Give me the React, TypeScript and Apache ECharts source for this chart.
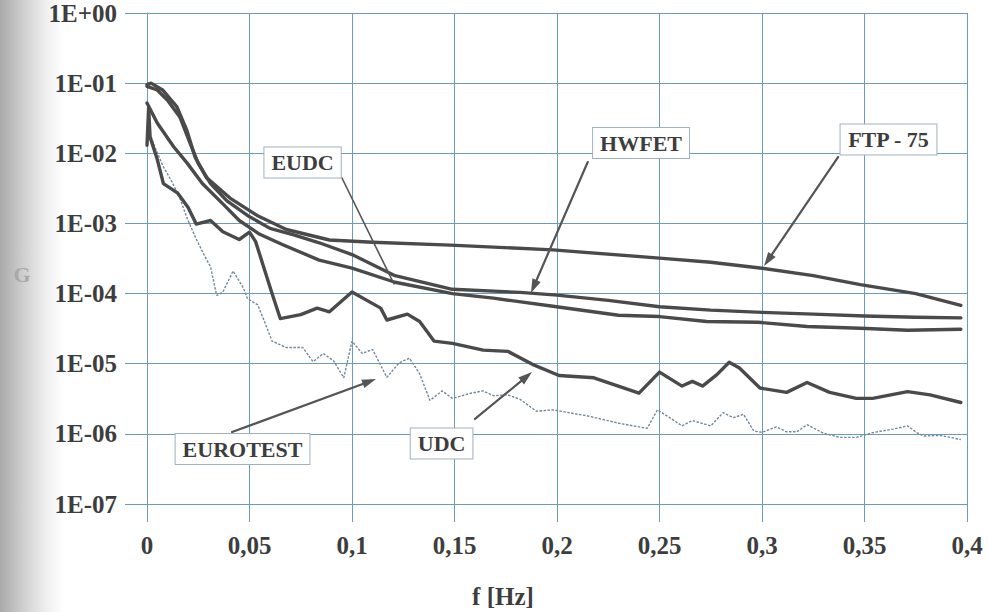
import React, { useEffect, useRef } from "react";
import * as echarts from "echarts";

// Power spectral density G(f) of driving-cycle speed signals, log scale.

const fTicks = [0, 0.05, 0.1, 0.15, 0.2, 0.25, 0.3, 0.35, 0.4];
const gRange = [1e-7, 1];

const ftp75: [number, number][] = [
  [0, 0.095], [0.002, 0.1], [0.0078, 0.079], [0.0146, 0.046], [0.0195, 0.021],
  [0.0234, 0.0089], [0.029, 0.0045], [0.0405, 0.0023], [0.0537, 0.0013],
  [0.068, 0.00082], [0.089, 0.00058], [0.11, 0.00054], [0.148, 0.00049],
  [0.198, 0.00042], [0.25, 0.00032], [0.275, 0.00028], [0.3, 0.00023],
  [0.325, 0.00018], [0.348, 0.000134], [0.375, 0.0001], [0.397, 0.000068],
];

const hwfet: [number, number][] = [
  [0, 0.09], [0.005, 0.08], [0.01, 0.057], [0.016, 0.033], [0.021, 0.014],
  [0.025, 0.0072], [0.031, 0.0037], [0.039, 0.0021], [0.049, 0.0013],
  [0.06, 0.00085], [0.072, 0.00068], [0.084, 0.00053], [0.1, 0.00036],
  [0.121, 0.00018], [0.149, 0.000115], [0.182, 0.000104], [0.2, 0.000095],
  [0.225, 0.00008], [0.25, 0.000065], [0.275, 0.000058], [0.3, 0.000054],
  [0.325, 0.000051], [0.35, 0.000048], [0.375, 0.000046], [0.397, 0.000045],
];

const eudc: [number, number][] = [
  [0, 0.052], [0.005, 0.027], [0.013, 0.0124], [0.0195, 0.0073], [0.027, 0.0037],
  [0.037, 0.0019], [0.045, 0.0011], [0.055, 0.0007], [0.066, 0.0005],
  [0.084, 0.0003], [0.1, 0.00023], [0.121, 0.000145], [0.149, 0.0001],
  [0.169, 0.000086], [0.198, 0.000066], [0.23, 0.000049], [0.25, 0.000047],
  [0.273, 0.00004], [0.298, 0.000039], [0.322, 0.000034], [0.348, 0.000032],
  [0.371, 0.00003], [0.397, 0.000031],
];

const udc: [number, number][] = [
  [0, 0.013], [0.0008, 0.045], [0.0015, 0.017], [0.005, 0.0082], [0.008, 0.0037],
  [0.015, 0.0027], [0.02, 0.0017], [0.024, 0.00098], [0.031, 0.0011],
  [0.037, 0.00076], [0.045, 0.00059], [0.05, 0.00075], [0.053, 0.00055],
  [0.061, 0.0001], [0.065, 0.000044], [0.075, 0.00005], [0.083, 0.000062],
  [0.089, 0.000055], [0.1, 0.000105], [0.114, 0.000062], [0.117, 0.000042],
  [0.127, 0.000051], [0.133, 0.00004], [0.14, 0.000021], [0.149, 0.0000195],
  [0.164, 0.0000156], [0.176, 0.000015], [0.188, 0.0000098], [0.201, 0.0000068],
  [0.218, 0.0000063], [0.24, 0.0000038], [0.25, 0.0000076], [0.261, 0.0000048],
  [0.266, 0.0000056], [0.271, 0.0000048], [0.278, 0.000007], [0.284, 0.0000105],
  [0.289, 0.0000087], [0.299, 0.0000045], [0.312, 0.0000039], [0.322, 0.0000054],
  [0.333, 0.0000039], [0.346, 0.0000032], [0.354, 0.0000032], [0.371, 0.000004],
  [0.382, 0.0000036], [0.397, 0.0000028],
];

const eurotest: [number, number][] = [
  [0, 0.025], [0.004, 0.012], [0.008, 0.0064], [0.012, 0.004], [0.016, 0.0023],
  [0.0195, 0.0012], [0.024, 0.0006], [0.028, 0.00035], [0.031, 0.00024],
  [0.034, 0.000094], [0.037, 0.000105], [0.042, 0.00021], [0.047, 0.00012],
  [0.049, 0.000085], [0.054, 0.000069], [0.057, 0.000042], [0.061, 0.000021],
  [0.068, 0.000017], [0.076, 0.000017], [0.081, 0.0000107], [0.086, 0.000014],
  [0.091, 0.000011], [0.096, 0.0000063], [0.1, 0.000021], [0.105, 0.000014],
  [0.11, 0.000016], [0.117, 0.0000064], [0.123, 0.0000103], [0.128, 0.000012],
  [0.133, 0.0000072], [0.138, 0.000003], [0.144, 0.0000041], [0.149, 0.0000032],
  [0.158, 0.0000038], [0.164, 0.0000041], [0.169, 0.0000035], [0.176, 0.0000036],
  [0.182, 0.0000031], [0.19, 0.0000021], [0.198, 0.0000022], [0.215, 0.0000018],
  [0.231, 0.0000014], [0.244, 0.0000012], [0.249, 0.0000022], [0.255, 0.0000017],
  [0.261, 0.0000013], [0.266, 0.00000155], [0.275, 0.0000013], [0.281, 0.000002],
  [0.286, 0.0000017], [0.291, 0.0000019], [0.296, 0.0000011], [0.3, 0.00000105],
  [0.307, 0.00000126], [0.312, 0.00000107], [0.317, 0.00000107], [0.322, 0.00000135],
  [0.33, 0.00000102], [0.338, 0.00000089], [0.346, 0.00000089], [0.354, 0.00000104],
  [0.364, 0.00000117], [0.371, 0.0000013], [0.376, 0.00000102], [0.379, 0.00000093],
  [0.387, 0.00000095], [0.397, 0.00000083],
];

// Callout labels: box centre, leader start and leader tip, in (f, G) coordinates.
type Callout = {
  text: string;
  box: [number, number];
  from: [number, number];
  to: [number, number];
  head: boolean;
};

const callouts: Callout[] = [
  { text: "EUDC", box: [0.0759, 7.4e-3], from: [0.0951, 4.44e-3], to: [0.1205, 1.37e-4], head: false },
  { text: "HWFET", box: [0.241, 0.014], from: [0.215, 7.5e-3], to: [0.1873, 1.02e-4], head: true },
  { text: "FTP - 75", box: [0.3617, 0.0157], from: [0.3371, 8.85e-3], to: [0.301, 2.47e-4], head: true },
  { text: "EUROTEST", box: [0.0466, 6.08e-7], from: [0.0415, 1.06e-6], to: [0.1117, 6.05e-6], head: true },
  { text: "UDC", box: [0.1437, 7.28e-7], from: [0.16, 1.63e-6], to: [0.1878, 7.6e-6], head: true },
];

const SERIF = '"Liberation Serif", "Times New Roman", serif';
const GRID = "#6b9bbb";
const INK = "#3d3d3d";
const CURVE = "#4a4a4a";

const thick = (name: string, data: [number, number][]) => ({
  name,
  type: "line",
  data,
  symbol: "none",
  showSymbol: false,
  z: 3,
  lineStyle: { color: CURVE, width: 3.4, cap: "round", join: "round" },
});

export default function App() {
  const ref = useRef<HTMLDivElement>(null);

  useEffect(() => {
    if (!ref.current) return;
    const chart = echarts.init(ref.current, null, { renderer: "svg" });

    chart.setOption({
      animation: false,
      backgroundColor: "transparent",
      grid: { left: 147, right: 21, top: 13, bottom: 108 },
      xAxis: {
        type: "value",
        min: fTicks[0],
        max: fTicks[fTicks.length - 1],
        interval: 0.05,
        axisLine: { show: true, lineStyle: { color: GRID, width: 1 } },
        axisTick: { show: true, inside: false, length: 18, lineStyle: { color: GRID, width: 1 } },
        splitLine: { show: true, lineStyle: { color: GRID, width: 1 } },
        axisLabel: {
          margin: 29,
          color: INK,
          fontFamily: SERIF,
          fontWeight: "bold",
          fontSize: 25,
          formatter: (v: number) => (v === 0 ? "0" : String(+v.toFixed(2)).replace(".", ",")),
        },
      },
      yAxis: {
        type: "log",
        logBase: 10,
        min: gRange[0],
        max: gRange[1],
        splitNumber: 7,
        axisLine: { show: true, lineStyle: { color: GRID, width: 1 } },
        axisTick: { show: true, inside: false, length: 22, lineStyle: { color: GRID, width: 1 } },
        splitLine: { show: true, lineStyle: { color: GRID, width: 1 } },
        minorTick: { show: false },
        axisLabel: {
          margin: 30,
          color: INK,
          fontFamily: SERIF,
          fontWeight: "bold",
          fontSize: 25,
          formatter: (v: number) => {
            const e = Math.round(Math.log10(v));
            return "1E" + (e < 0 ? "-" : "+") + String(Math.abs(e)).padStart(2, "0");
          },
        },
      },
      series: [
        {
          name: "EUROTEST",
          type: "line",
          data: eurotest,
          symbol: "none",
          showSymbol: false,
          z: 2,
          lineStyle: { color: "#72889a", width: 1.4, type: [2.5, 1.5] },
        },
        thick("UDC", udc),
        thick("EUDC", eudc),
        thick("HWFET", hwfet),
        thick("FTP - 75", ftp75),
      ],
    });

    const toPx = (p: [number, number]) =>
      chart.convertToPixel({ gridIndex: 0 }, p) as unknown as number[];

    const graphic: any[] = [];
    callouts.forEach((c) => {
      const [bx, by] = toPx(c.box);
      const [sx, sy] = toPx(c.from);
      const [tx, ty] = toPx(c.to);
      const dx = tx - sx;
      const dy = ty - sy;
      const len = Math.hypot(dx, dy) || 1;
      const ux = dx / len;
      const uy = dy / len;
      const L = c.head ? 14 : 0;
      const W = 4.5;
      graphic.push({
        type: "line",
        z: 10,
        shape: { x1: sx, y1: sy, x2: tx - ux * L * 0.7, y2: ty - uy * L * 0.7 },
        style: { stroke: "#555", lineWidth: c.head ? 2.2 : 1.6, lineCap: "round" },
      });
      if (c.head) {
        graphic.push({
          type: "polygon",
          z: 10,
          shape: {
            points: [
              [tx, ty],
              [tx - ux * L - uy * W, ty - uy * L + ux * W],
              [tx - ux * L + uy * W, ty - uy * L - ux * W],
            ],
          },
          style: { fill: "#555" },
        });
      }
      graphic.push({
        type: "text",
        z: 11,
        x: bx,
        y: by,
        style: {
          text: c.text,
          font: `bold 22px ${SERIF}`,
          fill: INK,
          align: "center",
          verticalAlign: "middle",
          textAlign: "center",
          textVerticalAlign: "middle",
          backgroundColor: "#ffffff",
          borderColor: "#9fb0bf",
          borderWidth: 1,
          padding: [4, 7],
        },
      });
    });

    graphic.push({
      type: "text",
      z: 11,
      x: 503,
      y: 596,
      style: {
        text: "f [Hz]",
        font: `bold 25px ${SERIF}`,
        fill: INK,
        align: "center",
        verticalAlign: "middle",
        textAlign: "center",
        textVerticalAlign: "middle",
      },
    });
    graphic.push({
      type: "text",
      z: 11,
      x: 22,
      y: 274,
      style: {
        text: "G",
        font: `bold 22px ${SERIF}`,
        fill: "#a9a9a9",
        align: "center",
        verticalAlign: "middle",
        textAlign: "center",
        textVerticalAlign: "middle",
      },
    });

    chart.setOption({ graphic });

    return () => chart.dispose();
  }, []);

  return (
    <div
      ref={ref}
      style={{
        position: "fixed",
        left: 0,
        top: 0,
        width: 988,
        height: 612,
        background:
          "linear-gradient(to right, #a9a9a9 0px, #bdbdbd 12px, #d9d9d9 30px, #f1f1f1 48px, #ffffff 64px)",
      }}
    />
  );
}
